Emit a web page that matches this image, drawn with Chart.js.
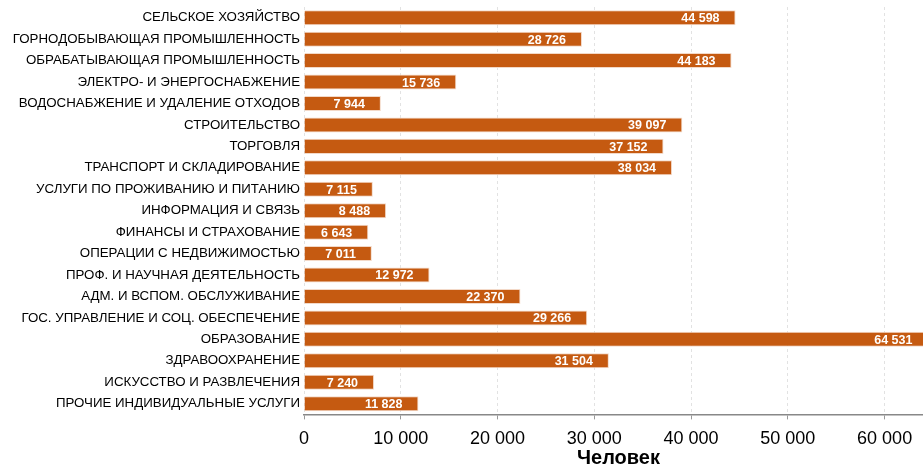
<!DOCTYPE html>
<html>
<head>
<meta charset="utf-8">
<script src="https://cdn.jsdelivr.net/npm/chart.js@4"></script>
<style>
    html, body { margin: 0; padding: 0; background: #fff; overflow: hidden; }
    #wrap { width: 933px; height: 466px; }
</style>
</head>
<body>
<div id="wrap"><canvas id="chart"></canvas></div>
<script>
const categories = [
    'СЕЛЬСКОЕ ХОЗЯЙСТВО',
    'ГОРНОДОБЫВАЮЩАЯ ПРОМЫШЛЕННОСТЬ',
    'ОБРАБАТЫВАЮЩАЯ ПРОМЫШЛЕННОСТЬ',
    'ЭЛЕКТРО- И ЭНЕРГОСНАБЖЕНИЕ',
    'ВОДОСНАБЖЕНИЕ И УДАЛЕНИЕ ОТХОДОВ',
    'СТРОИТЕЛЬСТВО',
    'ТОРГОВЛЯ',
    'ТРАНСПОРТ И СКЛАДИРОВАНИЕ',
    'УСЛУГИ ПО ПРОЖИВАНИЮ И ПИТАНИЮ',
    'ИНФОРМАЦИЯ И СВЯЗЬ',
    'ФИНАНСЫ И СТРАХОВАНИЕ',
    'ОПЕРАЦИИ С НЕДВИЖИМОСТЬЮ',
    'ПРОФ. И НАУЧНАЯ ДЕЯТЕЛЬНОСТЬ',
    'АДМ. И ВСПОМ. ОБСЛУЖИВАНИЕ',
    'ГОС. УПРАВЛЕНИЕ И СОЦ. ОБЕСПЕЧЕНИЕ',
    'ОБРАЗОВАНИЕ',
    'ЗДРАВООХРАНЕНИЕ',
    'ИСКУССТВО И РАЗВЛЕЧЕНИЯ',
    'ПРОЧИЕ ИНДИВИДУАЛЬНЫЕ УСЛУГИ'
];
const workers = [44598, 28726, 44183, 15736, 7944, 39097, 37152, 38034, 7115, 8488,
                 6643, 7011, 12972, 22370, 29266, 64531, 31504, 7240, 11828];
const xTicks = [0, 10000, 20000, 30000, 40000, 50000, 60000];
const xMax = 65000;

function fmt(v) {
    return String(Math.round(v)).replace(/\B(?=(\d{3})+(?!\d))/g, ' ');
}

// white values drawn inside the end of each bar
const barValues = {
    id: 'barValues',
    afterDatasetsDraw(chart) {
        const ctx = chart.ctx;
        const meta = chart.getDatasetMeta(0);
        ctx.save();
        ctx.font = 'bold 12.5px "Liberation Sans", Arial, sans-serif';
        ctx.fillStyle = '#fff';
        ctx.textAlign = 'right';
        ctx.textBaseline = 'middle';
        meta.data.forEach((bar, i) => {
            ctx.fillText(fmt(workers[i]), bar.x - 16, bar.y + 1);
        });
        ctx.restore();
    }
};

new Chart(document.getElementById('chart'), {
    type: 'bar',
    data: {
        labels: categories,
        datasets: [{
            data: workers,
            backgroundColor: '#c55a11',
            borderColor: '#f3d9c8',
            borderWidth: 1,
            barPercentage: 0.7,
            categoryPercentage: 1
        }]
    },
    options: {
        indexAxis: 'y',
        responsive: true,
        maintainAspectRatio: false,
        animation: false,
        layout: { padding: { top: 7, right: 0, bottom: 0, left: 0 } },
        plugins: {
            legend: { display: false },
            tooltip: { enabled: false }
        },
        scales: {
            x: {
                min: 0,
                max: xMax,
                afterBuildTicks(axis) {
                    axis.ticks = xTicks.map(v => ({ value: v }));
                },
                afterFit(axis) {
                    axis.paddingLeft = 0;
                    axis.paddingRight = 0;
                },
                ticks: {
                    callback: v => fmt(v),
                    color: '#000',
                    font: { family: '"Liberation Sans", Arial, sans-serif', size: 18 },
                    padding: 9,
                    maxRotation: 0
                },
                grid: {
                    color: '#e2e2e2',
                    tickColor: '#999',
                    tickLength: 5
                },
                border: { color: '#888', width: 1.5, dash: [3, 3] },
                title: {
                    display: true,
                    text: 'Человек',
                    color: '#000',
                    font: { family: '"Liberation Sans", Arial, sans-serif', size: 20, weight: 'bold' },
                    padding: { top: -13, bottom: -4 }
                }
            },
            y: {
                ticks: {
                    color: '#000',
                    font: { family: '"Liberation Sans", Arial, sans-serif', size: 13.3 },
                    padding: 4,
                    autoSkip: false
                },
                grid: { display: false, drawTicks: false },
                border: { display: false },
                afterFit(axis) {
                    axis.width = 304;
                    axis.paddingTop = 0;
                    axis.paddingBottom = 0;
                }
            }
        }
    },
    plugins: [barValues]
});
</script>
</body>
</html>
